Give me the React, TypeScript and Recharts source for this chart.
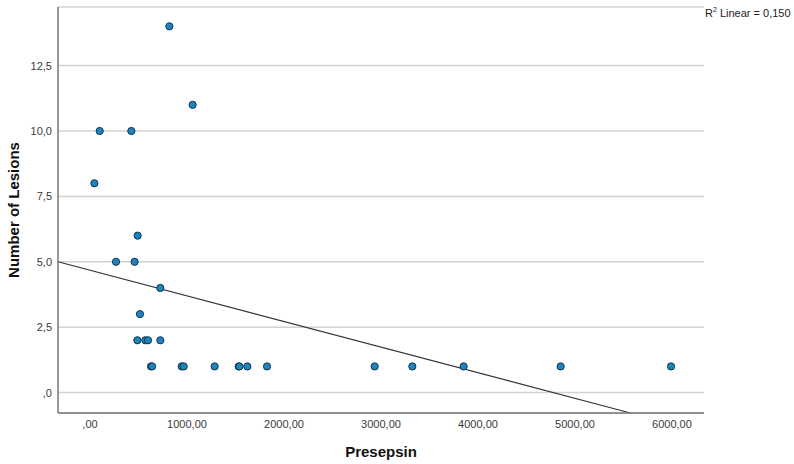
import React from "react";
import {
  ScatterChart,
  Scatter,
  XAxis,
  YAxis,
  CartesianGrid,
  ReferenceLine,
  Label,
} from "recharts";

// presepsin values and lesion counts
const presepsin = [
  818, 1058, 100, 426, 45, 491, 268, 460, 725, 515, 488, 570, 598, 725, 629,
  640, 945, 966, 1285, 1533, 1540, 1622, 1825, 2935, 3323, 3852, 4852, 5990,
];
const lesions = [
  14, 11, 10, 10, 8, 6, 5, 5, 4, 3, 2, 2, 2, 2, 1, 1, 1, 1, 1, 1, 1, 1, 1, 1, 1,
  1, 1, 1,
];

const xTicks = [0, 1000, 2000, 3000, 4000, 5000, 6000];
const xTickLabels = [",00", "1000,00", "2000,00", "3000,00", "4000,00", "5000,00", "6000,00"];
const yTicks = [0, 2.5, 5, 7.5, 10, 12.5];
const yTickLabels = [",0", "2,5", "5,0", "7,5", "10,0", "12,5"];

const xDomain = [-330, 6330];
const yDomain = [-0.78, 14.74];

// fit line
const intercept = 4.68;
const slope = -0.00098;

const points = presepsin.map((x, i) => ({ x, y: lesions[i] }));

const lineStart = { x: xDomain[0], y: intercept + slope * xDomain[0] };
const lineEnd = { x: (yDomain[0] - intercept) / slope, y: yDomain[0] };

const FONT = "'Liberation Sans', Arial, sans-serif";

export default function App() {
  return (
    <div style={{ position: "absolute", left: 0, top: 0, background: "#fff" }}>
      <ScatterChart
        width={794}
        height={464}
        margin={{ top: 7, right: 90, bottom: 0, left: 0 }}
      >
        <CartesianGrid
          vertical={false}
          stroke="#d2d2d2"
          strokeWidth={1.5}
        />
        <XAxis
          type="number"
          dataKey="x"
          domain={xDomain}
          ticks={xTicks}
          tickFormatter={(v: number) => xTickLabels[xTicks.indexOf(v)]}
          height={51}
          tickLine={false}
          axisLine={{ stroke: "#777", strokeWidth: 1.5 }}
          tick={{ fill: "#3a3a3a", fontSize: 11, fontFamily: FONT }}
          tickMargin={1}
        >
          <Label
            content={({ viewBox }: any) => (
              <text
                x={viewBox.x + viewBox.width / 2}
                y={457}
                textAnchor="middle"
                fontFamily={FONT}
                fontWeight="bold"
                fontSize={15}
                fill="#111"
              >
                Presepsin
              </text>
            )}
          />
        </XAxis>
        <YAxis
          type="number"
          dataKey="y"
          domain={yDomain}
          ticks={yTicks}
          tickFormatter={(v: number) => yTickLabels[yTicks.indexOf(v)]}
          width={58}
          tickLine={false}
          axisLine={{ stroke: "#777", strokeWidth: 1.5 }}
          tick={{ fill: "#3a3a3a", fontSize: 11, fontFamily: FONT }}
          tickMargin={0}
        >
          <Label
            content={({ viewBox }: any) => {
              const cx = 19;
              const cy = viewBox.y + viewBox.height / 2;
              return (
                <text
                  x={cx}
                  y={cy}
                  transform={`rotate(-90, ${cx}, ${cy})`}
                  textAnchor="middle"
                  fontFamily={FONT}
                  fontWeight="bold"
                  fontSize={15}
                  fill="#111"
                >
                  Number of Lesions
                </text>
              );
            }}
          />
        </YAxis>
        <ReferenceLine
          segment={[lineStart, lineEnd]}
          stroke="#333"
          strokeWidth={1.2}
          ifOverflow="visible"
        />
        <Scatter
          data={points}
          isAnimationActive={false}
          shape={(props: any) => (
            <circle
              cx={props.cx}
              cy={props.cy}
              r={3.6}
              fill="#1f84be"
              stroke="#0d3550"
              strokeWidth={1}
            />
          )}
        />
      </ScatterChart>
      <div
        style={{
          position: "absolute",
          left: 705,
          top: 6,
          fontFamily: FONT,
          fontSize: 11,
          color: "#222",
          whiteSpace: "nowrap",
        }}
      >
        R<sup style={{ fontSize: 7 }}>2</sup> Linear = 0,150
      </div>
    </div>
  );
}
